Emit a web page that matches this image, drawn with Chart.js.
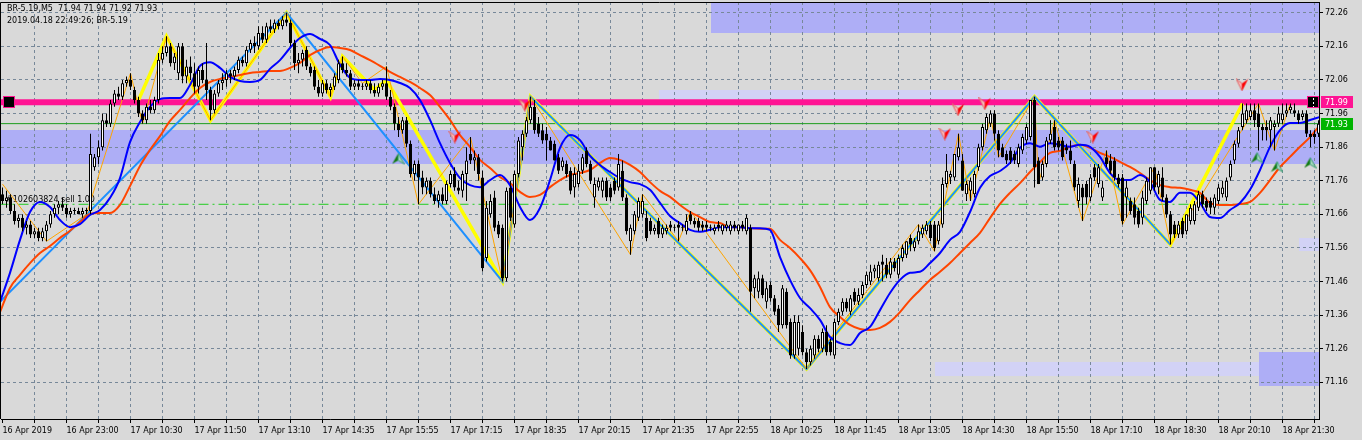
<!DOCTYPE html>
<html>
<head>
<meta charset="utf-8">
<title>BR-5.19,M5</title>
<script src="https://cdn.jsdelivr.net/npm/chart.js@4.4.1/dist/chart.umd.min.js"></script>
<style>
  html, body { margin: 0; padding: 0; background: #d9d9d9; }
  #c { display: block; }
</style>
</head>
<body>
<canvas id="c" width="1362" height="440"></canvas>
<script>

const timeLabels = ['16 Apr 2019','16 Apr 23:00','17 Apr 10:30','17 Apr 11:50','17 Apr 13:10','17 Apr 14:35',
  '17 Apr 15:55','17 Apr 17:15','17 Apr 18:35','17 Apr 20:15','17 Apr 21:35','17 Apr 22:55','18 Apr 10:25',
  '18 Apr 11:45','18 Apr 13:05','18 Apr 14:30','18 Apr 15:50','18 Apr 17:10','18 Apr 18:30','18 Apr 20:10','18 Apr 21:30'];
const labelEvery = 16;   // barres entre deux dates
const gridEvery = 8;
const yTicks = [71.16,71.26,71.36,71.46,71.56,71.66,71.76,71.86,71.96,72.06,72.16,72.26];

const opens = [
  71.72,71.70,71.71,71.67,71.64,71.65,71.62,71.63,71.60,71.61, 71.59,71.61,71.63,71.66,71.68,71.69,71.68,71.66,71.67,71.67,
  71.66,71.67,71.67,71.80,71.83,71.86,71.94,71.93,71.99,72.02, 72.01,72.05,72.06,72.03,72.00,71.96,71.94,71.98,71.97,72.00,
  72.12,72.14,72.16,72.11,72.08,72.16,72.07,72.10,72.08,72.04, 72.09,72.06,72.03,71.97,72.02,72.05,72.06,72.08,72.07,72.09,
  72.12,72.11,72.15,72.17,72.16,72.20,72.18,72.22,72.21,72.23, 72.22,72.24,72.23,72.17,72.11,72.12,72.15,72.10,72.09,72.04,
  72.02,72.05,72.03,72.04,72.06,72.11,72.09,72.08,72.04,72.05, 72.04,72.04,72.05,72.03,72.02,72.04,72.05,72.01,71.98,71.93,
  71.91,71.94,71.87,71.78,71.81,71.77,71.74,71.76,71.72,71.70, 71.72,71.70,71.75,71.78,71.74,71.73,71.78,71.84,71.82,71.83,
  71.77,71.53,71.66,71.71,71.63,71.62,71.47,71.74,71.63,71.78, 71.86,71.90,71.94,71.98,71.93,71.91,71.90,71.88,71.87,71.83,
  71.80,71.81,71.79,71.74,71.75,71.79,71.85,71.81,71.71,71.74, 71.73,71.76,71.74,71.76,71.74,71.79,71.71,71.58,71.61,71.65,
  71.66,71.65,71.64,71.61,71.64,71.60,71.61,71.63,71.62,71.63, 71.62,71.61,71.66,71.64,71.64,71.63,71.63,71.62,71.61,71.63,
  71.61,71.62,71.61,71.63,71.61,71.63,71.61,71.62,71.44,71.43, 71.47,71.40,71.45,71.41,71.38,71.33,71.43,71.34,71.24,71.26,
  71.31,71.25,71.22,71.24,71.29,71.26,71.31,71.28,71.24,71.34, 71.37,71.40,71.37,71.43,71.40,71.42,71.45,71.46,71.49,71.47,
  71.52,71.51,71.48,71.52,71.48,71.53,71.54,71.59,71.56,71.58, 71.60,71.61,71.63,71.63,71.58,71.63,71.75,71.77,71.77,71.83,
  71.82,71.72,71.73,71.72,71.80,71.86,71.91,71.93,71.96,71.90, 71.86,71.84,71.85,71.84,71.81,71.85,71.88,71.89,72.00,71.82,
  71.77,71.81,71.88,71.92,71.88,71.88,71.86,71.85,71.81,71.70, 71.74,71.75,71.71,71.80,71.75,71.71,71.83,71.82,71.82,71.77,
  71.77,71.71,71.70,71.69,71.67,71.65,71.70,71.73,71.80,71.74, 71.77,71.71,71.66,71.63,71.60,71.64,71.61,71.64,71.64,71.68,
  71.72,71.70,71.70,71.68,71.70,71.72,71.71,71.77,71.82,71.87, 71.92,71.94,71.95,71.97,71.96,71.92,71.92,71.91,71.92,71.93,
  71.94,71.96,71.97,71.97,71.96,71.95,71.96,71.90,71.90,71.90
];
const highs = [
  71.74,71.73,71.72,71.69,71.66,71.66,71.64,71.64,71.62,71.62, 71.62,71.64,71.67,71.69,71.70,71.71,71.69,71.68,71.68,71.68,
  71.68,71.68,71.90,71.84,71.88,71.96,71.96,72.00,72.03,72.04, 72.06,72.07,72.08,72.04,72.01,71.97,71.99,72.00,72.01,72.14,
  72.16,72.19,72.17,72.14,72.17,72.17,72.12,72.13,72.11,72.10, 72.11,72.17,72.04,72.03,72.06,72.08,72.09,72.09,72.10,72.13,
  72.13,72.16,72.18,72.19,72.22,72.22,72.23,72.24,72.24,72.24, 72.25,72.26,72.24,72.18,72.14,72.15,72.16,72.11,72.10,72.06,
  72.06,72.06,72.05,72.08,72.12,72.13,72.11,72.09,72.06,72.06, 72.05,72.06,72.06,72.05,72.05,72.06,72.10,72.03,71.99,71.95,
  71.95,71.95,71.88,71.82,71.82,71.79,71.77,71.77,71.74,71.73, 71.74,71.76,71.79,71.80,71.76,71.79,71.86,71.89,71.85,71.84,
  71.79,71.70,71.72,71.73,71.64,71.63,71.74,71.76,71.79,71.89, 71.91,71.95,72.01,72.00,71.95,71.93,71.92,71.89,71.88,71.84,
  71.83,71.82,71.80,71.80,71.81,71.84,71.86,71.82,71.77,71.77, 71.77,71.77,71.75,71.77,71.84,71.82,71.72,71.63,71.67,71.71,
  71.72,71.67,71.65,71.63,71.65,71.63,71.63,71.64,71.63,71.64, 71.63,71.66,71.67,71.65,71.65,71.64,71.64,71.63,71.63,71.64,
  71.63,71.64,71.64,71.64,71.63,71.64,71.66,71.63,71.48,71.49, 71.48,71.46,71.46,71.42,71.39,71.45,71.44,71.35,71.36,71.36,
  71.33,71.26,71.27,71.30,71.30,71.32,71.33,71.29,71.35,71.38, 71.41,71.41,71.42,71.44,71.44,71.46,71.49,71.51,71.51,71.52,
  71.54,71.53,71.53,71.53,71.54,71.57,71.58,71.60,71.59,71.63, 71.63,71.64,71.64,71.64,71.64,71.77,71.84,71.79,71.84,71.90,
  71.84,71.76,71.77,71.79,71.87,71.93,71.96,71.97,71.97,71.91, 71.87,71.85,71.86,71.85,71.87,71.90,71.93,72.00,72.01,71.83,
  71.82,71.89,71.94,71.94,71.89,71.89,71.87,71.88,71.82,71.77, 71.75,71.76,71.78,71.81,71.81,71.76,71.85,71.84,71.83,71.78,
  71.78,71.76,71.71,71.71,71.68,71.73,71.77,71.80,71.80,71.79, 71.80,71.72,71.67,71.64,71.64,71.65,71.66,71.69,71.70,71.73,
  71.73,71.71,71.71,71.72,71.75,71.76,71.77,71.82,71.88,71.92, 71.99,71.99,71.99,71.99,71.99,71.93,71.94,71.95,71.94,71.98,
  71.99,71.99,71.99,71.99,71.97,71.97,71.97,71.91,71.91,71.94
];
const lows = [
  71.69,71.68,71.66,71.63,71.62,71.61,71.60,71.59,71.59,71.58, 71.58,71.58,71.62,71.65,71.66,71.67,71.65,71.65,71.66,71.66,
  71.65,71.66,71.66,71.79,71.81,71.85,71.92,71.92,71.98,72.00, 72.00,72.04,72.03,71.99,71.95,71.93,71.93,71.96,71.96,71.99,
  72.11,72.13,72.10,72.09,72.06,72.05,72.05,72.06,72.02,72.02, 72.05,72.00,71.94,71.96,72.01,72.03,72.04,72.05,72.06,72.08,
  72.10,72.10,72.14,72.14,72.15,72.17,72.17,72.20,72.20,72.21, 72.21,72.22,72.16,72.09,72.08,72.10,72.09,72.07,72.03,72.01,
  72.01,72.02,72.01,72.03,72.05,72.08,72.07,72.03,72.03,72.03, 72.03,72.03,72.02,72.01,72.01,72.03,72.00,71.97,71.91,71.89,
  71.90,71.86,71.77,71.76,71.69,71.72,71.72,71.71,71.69,71.68, 71.69,71.69,71.74,71.73,71.72,71.71,71.70,71.81,71.79,71.76,
  71.49,71.52,71.65,71.61,71.59,71.46,71.46,71.64,71.62,71.77, 71.82,71.89,71.93,71.90,71.89,71.87,71.82,71.85,71.82,71.78,
  71.79,71.77,71.72,71.71,71.74,71.78,71.80,71.75,71.68,71.73, 71.71,71.70,71.70,71.72,71.73,71.70,71.60,71.54,71.60,71.64,
  71.65,71.58,71.60,71.60,71.59,71.59,71.60,71.61,71.61,71.58, 71.61,71.60,71.63,71.62,71.61,71.61,71.61,71.61,71.60,71.61,
  71.60,71.61,71.60,71.61,71.60,71.61,71.60,71.37,71.41,71.41, 71.41,71.38,71.40,71.36,71.31,71.32,71.32,71.23,71.23,71.24,
  71.24,71.20,71.21,71.23,71.25,71.25,71.24,71.24,71.23,71.33, 71.36,71.37,71.36,71.39,71.39,71.41,71.44,71.45,71.47,71.46,
  71.46,71.47,71.47,71.49,71.47,71.52,71.53,71.55,71.55,71.57, 71.59,71.60,71.58,71.55,71.57,71.62,71.74,71.75,71.76,71.82,
  71.73,71.70,71.70,71.71,71.79,71.85,71.90,71.92,71.88,71.83, 71.83,71.81,71.81,71.81,71.80,71.84,71.87,71.88,71.74,71.75,
  71.76,71.80,71.87,71.85,71.85,71.82,71.84,71.81,71.73,71.68, 71.64,71.69,71.70,71.76,71.74,71.70,71.80,71.78,71.76,71.74,
  71.63,71.65,71.66,71.63,71.62,71.63,71.69,71.72,71.73,71.72, 71.70,71.65,71.57,71.59,71.59,71.59,71.60,71.63,71.63,71.67,
  71.68,71.67,71.66,71.66,71.69,71.71,71.70,71.76,71.81,71.86, 71.91,71.93,71.94,71.92,71.85,71.88,71.88,71.86,71.85,71.92,
  71.93,71.95,71.96,71.95,71.93,71.94,71.89,71.86,71.87,71.89
];
const closes = [
  71.70,71.71,71.67,71.64,71.65,71.62,71.63,71.60,71.61,71.59, 71.61,71.63,71.66,71.68,71.69,71.68,71.66,71.67,71.67,71.66,
  71.67,71.67,71.84,71.83,71.86,71.94,71.93,71.99,72.02,72.01, 72.05,72.06,72.04,72.00,71.96,71.94,71.98,71.97,72.00,72.12,
  72.14,72.16,72.11,72.13,72.16,72.07,72.10,72.08,72.04,72.09, 72.06,72.03,71.97,72.02,72.05,72.06,72.08,72.07,72.09,72.12,
  72.11,72.15,72.17,72.16,72.20,72.18,72.22,72.21,72.23,72.22, 72.24,72.23,72.17,72.11,72.12,72.14,72.10,72.08,72.04,72.02,
  72.05,72.03,72.04,72.07,72.11,72.09,72.08,72.04,72.05,72.04, 72.04,72.05,72.03,72.02,72.04,72.05,72.01,71.98,71.93,71.91,
  71.94,71.87,71.78,71.81,71.77,71.74,71.76,71.72,71.70,71.72, 71.70,71.75,71.78,71.74,71.73,71.78,71.82,71.82,71.83,71.78,
  71.50,71.68,71.70,71.62,71.60,71.47,71.73,71.65,71.78,71.88, 71.90,71.94,71.98,71.91,71.90,71.88,71.88,71.85,71.82,71.79,
  71.82,71.78,71.73,71.78,71.79,71.83,71.81,71.76,71.75,71.76, 71.76,71.71,71.71,71.73,71.81,71.71,71.61,71.62,71.66,71.70,
  71.70,71.59,71.61,71.62,71.60,71.62,71.62,71.62,71.62,71.62, 71.62,71.64,71.64,71.63,71.62,71.62,71.62,71.62,71.62,71.62,
  71.63,71.63,71.63,71.62,71.63,71.62,71.65,71.43,71.47,71.47, 71.42,71.44,71.41,71.37,71.33,71.44,71.33,71.24,71.34,71.34,
  71.25,71.22,71.26,71.29,71.26,71.31,71.25,71.25,71.34,71.37, 71.40,71.38,71.41,71.40,71.42,71.45,71.48,71.49,71.50,71.51,
  71.51,71.48,71.52,71.50,71.53,71.56,71.58,71.57,71.58,71.61, 71.62,71.63,71.59,71.56,71.63,71.75,71.79,71.78,71.84,71.86,
  71.73,71.75,71.76,71.78,71.86,71.92,71.95,71.96,71.90,71.85, 71.83,71.82,71.82,71.82,71.86,71.89,71.92,72.00,71.80,71.75,
  71.81,71.88,71.90,71.86,71.86,71.83,71.85,71.82,71.74,71.75, 71.71,71.71,71.77,71.77,71.80,71.74,71.81,71.79,71.77,71.75,
  71.64,71.74,71.67,71.65,71.63,71.71,71.76,71.80,71.74,71.78, 71.71,71.66,71.60,71.60,71.63,71.60,71.66,71.68,71.69,71.72,
  71.69,71.68,71.68,71.71,71.74,71.74,71.76,71.81,71.87,71.91, 71.96,71.97,71.97,71.94,71.92,71.91,71.91,71.94,71.93,71.96,
  71.96,71.97,71.98,71.96,71.94,71.96,71.90,71.89,71.89,71.93
];

// moyennes mobiles, relevées tous les 2.5 barres
const maFirstIdx = -0.625, maStepIdx = 2.5;
const maFast = [
  71.399,71.486,71.584,71.667,71.697,71.682,71.643,71.622,71.631,71.658,
  71.673,71.709,71.768,71.875,71.935,71.980,72.003,72.006,72.006,72.045,
  72.102,72.113,72.096,72.069,72.057,72.054,72.060,72.093,72.119,72.155,
  72.185,72.197,72.182,72.164,72.105,72.066,72.060,72.060,72.063,72.060,
  72.051,72.036,72.000,71.941,71.872,71.813,71.768,71.747,71.741,71.762,
  71.777,71.747,71.682,71.643,71.679,71.762,71.858,71.896,71.881,71.834,
  71.807,71.786,71.768,71.756,71.750,71.733,71.694,71.655,71.634,71.614,
  71.608,71.614,71.622,71.622,71.622,71.619,71.619,71.614,71.533,71.465,
  71.411,71.381,71.346,71.295,71.277,71.271,71.307,71.325,71.375,71.426,
  71.465,71.486,71.489,71.515,71.545,71.584,71.608,71.667,71.739,71.774,
  71.789,71.813,71.858,71.872,71.861,71.872,71.867,71.861,71.867,71.861,
  71.831,71.783,71.762,71.762,71.777,71.756,71.703,71.697,71.724,71.724,
  71.694,71.652,71.649,71.673,71.694,71.733,71.792,71.861,71.911,71.932,
  71.932,71.941,71.950
];
const maSlow = [
  71.369,71.441,71.480,71.515,71.545,71.566,71.590,71.611,71.637,71.661,
  71.664,71.664,71.688,71.744,71.804,71.852,71.893,71.938,71.971,72.006,
  72.036,72.054,72.063,72.069,72.075,72.081,72.084,72.087,72.087,72.096,
  72.111,72.134,72.149,72.158,72.155,72.149,72.134,72.119,72.102,72.084,
  72.069,72.054,72.036,72.015,71.980,71.941,71.896,71.861,71.822,71.798,
  71.771,71.753,71.727,71.712,71.718,71.741,71.762,71.777,71.783,71.792,
  71.813,71.828,71.822,71.807,71.786,71.756,71.730,71.712,71.688,71.667,
  71.652,71.637,71.634,71.622,71.622,71.619,71.617,71.617,71.584,71.560,
  71.530,71.494,71.444,71.384,71.355,71.331,71.319,71.316,71.322,71.340,
  71.369,71.405,71.435,71.465,71.489,71.515,71.545,71.575,71.605,71.649,
  71.691,71.724,71.753,71.786,71.816,71.843,71.849,71.861,71.867,71.858,
  71.843,71.831,71.816,71.801,71.783,71.762,71.747,71.741,71.739,71.733,
  71.724,71.694,71.688,71.688,71.691,71.697,71.724,71.762,71.801,71.831,
  71.861,71.890,71.926
];

// zigzags (indice de barre, prix)
const zzMainIdx = [-0.6, 71, 125, 132, 201, 258, 292];
const zzMainVal = [71.40, 72.26, 71.46, 72.01, 71.20, 72.01, 71.57];
const zzYelIdx = [34, 41, 52, 71, 82, 85, 93, 96, 125, 132, 201, 258, 292, 310];
const zzYelVal = [72.00, 72.19, 71.94, 72.26, 72.01, 72.13, 72.03, 72.06, 71.46, 72.01, 71.20, 72.01, 71.57, 71.99];
const zzThinIdx = [0,11,21,32,35,41,52,71,82,85, 90,96,104,117,125,132,157,160,169,172,
  201,229,233,239,242,247,249,258,259,263, 270,276,280,288,292,314,318,322];
const zzThinVal = [71.75,71.58,71.66,72.08,71.93,72.19,71.94,72.26,72.01,72.13, 72.05,72.10,71.69,71.89,71.46,72.01,71.54,71.72,71.58,71.67,
  71.20,71.63,71.55,71.90,71.70,71.95,71.83,72.01,71.75,71.94, 71.64,71.85,71.63,71.80,71.57,71.99,71.85,71.99];

// flèches
const sellArrowIdx = [113.1, 130.6, 235.6, 238.9, 245.6, 272.6, 309.9];
const sellArrowVal = [71.890, 71.985, 71.899, 71.971, 71.989, 71.890, 72.045];
const buyArrowIdx = [98.9, 313.6, 318.6, 326.9];
const buyArrowVal = [71.825, 71.828, 71.801, 71.813];

// zones (début, fin, bas, haut, foncée ?)
const zoneFrom = [-1, 164.1, 177.1, 233.1, 314.1, 324.1];
const zoneTo   = [340, 340, 340, 314.1, 340, 340];
const zoneLow  = [71.81, 72.00, 72.20, 71.18, 71.15, 71.55];
const zoneHigh = [71.91, 72.03, 72.40, 71.22, 71.25, 71.59];
const zoneDark = [true, false, true, false, true, false];

const levelLine = 71.994;   // ligne horizontale rose
const bidLevel = 71.93;
const orderLevel = 71.69;
const orderText = '#102603824 sell 1.00';
const headerLines = ['BR-5.19,M5  71.94 71.94 71.92 71.93', '2019.04.18 22:49:26; BR-5.19'];

// styles
const BG = '#d9d9d9', GRID = '#778899';
const ZONE_DARK = '#aeaef6', ZONE_LIGHT = '#d2d2f6';
const PINK = '#ff1493', GREEN_BOX = '#00b400';
const FONT = '"DejaVu Sans", sans-serif';

const idx = opens.map((_, i) => i);
const xTickIdx = [];
for (let v = 0; v <= opens.length - 1; v += gridEvery) xTickIdx.push(v);

function pts(xs, ys){ return xs.map((x, k) => ({x, y: ys[k]})); }
function maPts(vals){ return vals.map((v, k) => ({x: maFirstIdx + k * maStepIdx, y: v})); }
function hline(level, color, width, dash, order){
  return { type: 'line', data: [{x: -1, y: level}, {x: 340, y: level}], borderColor: color, borderWidth: width,
    borderDash: dash, pointRadius: 0, fill: false, order };
}

function arrowGlyph(down){
  const c = document.createElement('canvas');
  c.width = 13; c.height = 13;
  const g = c.getContext('2d');
  g.lineWidth = 1;
  if(down){
    g.fillStyle = '#f6b8b8'; g.strokeStyle = '#e06a6a';
    g.beginPath(); g.moveTo(0.5, 0.5); g.lineTo(6.5, 5); g.lineTo(6.5, 12.5); g.closePath(); g.fill(); g.stroke();
    g.fillStyle = '#ff0000';
    g.beginPath(); g.moveTo(12.5, 0.5); g.lineTo(6.5, 5); g.lineTo(6.5, 12.5); g.closePath(); g.fill();
  } else {
    g.fillStyle = '#137a13';
    g.beginPath(); g.moveTo(6.5, 1); g.lineTo(0.5, 11.5); g.lineTo(6.5, 8); g.closePath(); g.fill();
    g.fillStyle = '#a9d9c0'; g.strokeStyle = '#3a9f72';
    g.beginPath(); g.moveTo(6.5, 1); g.lineTo(12.5, 11.5); g.lineTo(6.5, 8); g.closePath(); g.fill(); g.stroke();
  }
  return c;
}

const chrome = {
  id: 'chrome',
  beforeDraw(chart){
    const {ctx, chartArea: a, scales: {x, y}} = chart;
    ctx.save();
    ctx.fillStyle = BG;
    ctx.fillRect(0, 0, chart.width, chart.height);
    ctx.beginPath(); ctx.rect(a.left, a.top, a.right - a.left, a.bottom - a.top); ctx.clip();
    zoneFrom.forEach((f, k) => {
      const x0 = Math.round(x.getPixelForValue(f)), x1 = Math.round(x.getPixelForValue(zoneTo[k]));
      const y0 = Math.round(y.getPixelForValue(zoneHigh[k])), y1 = Math.round(y.getPixelForValue(zoneLow[k]));
      ctx.fillStyle = zoneDark[k] ? ZONE_DARK : ZONE_LIGHT;
      ctx.fillRect(x0, y0, x1 - x0, y1 - y0);
    });
    ctx.restore();
  },
  beforeDatasetsDraw(chart){
    const {ctx, chartArea: a, scales: {y}} = chart;
    ctx.save();
    ctx.font = '8px ' + FONT;
    ctx.fillStyle = '#000';
    ctx.textBaseline = 'alphabetic';
    ctx.fillText(orderText, a.left + 5, Math.round(y.getPixelForValue(orderLevel)) - 2);
    ctx.restore();
  },
  afterDraw(chart){
    const {ctx, chartArea: a, scales: {y}} = chart;
    ctx.save();
    // cadre
    ctx.strokeStyle = '#000'; ctx.lineWidth = 1;
    ctx.beginPath();
    ctx.moveTo(a.left - 0.5, a.bottom); ctx.lineTo(a.left - 0.5, a.top + 0.5); ctx.lineTo(a.right, a.top + 0.5);
    ctx.stroke();

    // carrés aux extrémités de la ligne rose
    const ly = Math.round(y.getPixelForValue(levelLine));
    [a.left + 2, a.right - 12].forEach(sx => {
      ctx.fillStyle = '#000'; ctx.fillRect(sx, ly - 6, 12, 12);
      ctx.strokeStyle = PINK; ctx.strokeRect(sx + 0.5, ly - 5.5, 11, 11);
    });
    ctx.strokeStyle = '#fff'; ctx.setLineDash([2, 2]);
    ctx.beginPath(); ctx.moveTo(a.right - 5.5, ly - 4); ctx.lineTo(a.right - 5.5, ly + 5); ctx.stroke();
    ctx.setLineDash([]);

    // étiquettes de prix à droite
    ctx.font = '8px ' + FONT;
    ctx.textBaseline = 'middle';
    [[levelLine, PINK, '71.99'], [bidLevel, GREEN_BOX, bidLevel.toFixed(2)]].forEach(([v, col, txt]) => {
      const py = Math.round(y.getPixelForValue(v));
      ctx.fillStyle = col;
      ctx.fillRect(a.right + 2, py - 6, 32, 12);
      ctx.fillStyle = '#fff';
      ctx.fillText(txt, a.right + 6, py + 0.5);
    });

    // en-tête
    ctx.fillStyle = '#000';
    ctx.textBaseline = 'alphabetic';
    ctx.fillText(headerLines[0], 7, 11);
    ctx.fillText(headerLines[1], 7, 23);
    ctx.restore();
  }
};

const datasets = [
  { type: 'line', data: pts(sellArrowIdx, sellArrowVal), showLine: false, pointStyle: arrowGlyph(true), pointRadius: 6, order: -2 },
  { type: 'line', data: pts(buyArrowIdx, buyArrowVal), showLine: false, pointStyle: arrowGlyph(false), pointRadius: 6, order: -2 },
  { type: 'bar', data: idx.map(i => ({x: i, y: [opens[i], closes[i]]})),
    backgroundColor: idx.map(i => closes[i] >= opens[i] ? '#ffffff' : '#000000'),
    borderColor: '#000', borderWidth: 1, borderSkipped: false, inflateAmount: 0, minBarLength: 1,
    grouped: false, maxBarThickness: 3, barPercentage: 1, categoryPercentage: 1, order: 0 },
  { type: 'bar', data: idx.map(i => ({x: i, y: [lows[i], highs[i]]})),
    backgroundColor: '#000', borderWidth: 0, inflateAmount: 0,
    grouped: false, maxBarThickness: 1, barPercentage: 1, categoryPercentage: 1, order: 1 },
  { type: 'line', data: maPts(maFast), borderColor: '#0000ff', borderWidth: 2, pointRadius: 0, fill: false,
    cubicInterpolationMode: 'monotone', order: 2 },
  { type: 'line', data: maPts(maSlow), borderColor: '#ff4500', borderWidth: 2, pointRadius: 0, fill: false,
    cubicInterpolationMode: 'monotone', order: 3 },
  { type: 'line', data: pts(zzThinIdx, zzThinVal), borderColor: '#ffa500', borderWidth: 1, pointRadius: 0, fill: false, order: 4 },
  { type: 'line', data: pts(zzMainIdx, zzMainVal), borderColor: '#1e90ff', borderWidth: 2, pointRadius: 0, fill: false, order: 5 },
  { type: 'line', data: pts(zzYelIdx, zzYelVal), borderColor: '#ffff00', borderWidth: 3.5, pointRadius: 0, fill: false, order: 6 },
  hline(bidLevel, '#1e9e1e', 1, [], 8),
  hline(orderLevel, '#22cc22', 1, [10, 4, 2, 4], 8),
  hline(levelLine, PINK, 6, [], 9)
];

new Chart(document.getElementById('c'), {
  type: 'line',
  data: { datasets },
  options: {
    responsive: false,
    animation: false,
    events: [],
    layout: { autoPadding: false, padding: { left: 1, top: 2, right: 0, bottom: 0 } },
    plugins: { legend: { display: false }, tooltip: { enabled: false } },
    scales: {
      x: {
        type: 'linear', min: -0.375, max: 329.125, offset: false,
        afterBuildTicks: s => { s.ticks = xTickIdx.map(v => ({ value: v })); },
        afterFit: s => { s.height = 21; s.paddingLeft = 0; s.paddingRight = 0; },
        ticks: {
          autoSkip: false, maxRotation: 0, minRotation: 0, align: 'start', padding: 3,
          color: '#000', font: { family: FONT, size: 8 },
          callback: v => v % labelEvery === 0 ? timeLabels[v / labelEvery] : ''
        },
        grid: {
          offset: false,
          color: c => (c.tick && c.tick.value === 0) ? 'rgba(0,0,0,0)' : GRID,
          tickColor: '#000', tickLength: 4
        },
        border: { display: true, color: '#000', width: 1, dash: [3, 3] }
      },
      y: {
        type: 'linear', position: 'right', min: 71.051, max: 72.292,
        afterBuildTicks: s => { s.ticks = yTicks.map(v => ({ value: v })); },
        afterFit: s => { s.width = 43; s.paddingTop = 0; s.paddingBottom = 0; },
        ticks: { padding: 2, color: '#000', font: { family: FONT, size: 8 }, callback: v => v.toFixed(2) },
        grid: { color: GRID, tickColor: '#000', tickLength: 4 },
        border: { display: true, color: '#000', width: 1, dash: [3, 3] }
      }
    }
  },
  plugins: [chrome]
});
</script>
</body>
</html>
